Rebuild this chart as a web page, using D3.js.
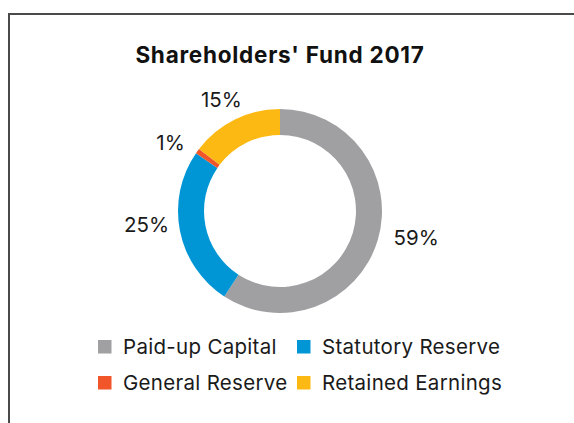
<!DOCTYPE html>
<html><head><meta charset="utf-8">
<script src="https://cdn.jsdelivr.net/npm/d3@7"></script>
<style>html,body{margin:0;padding:0;background:#fff;}svg{display:block;}</style>
</head><body>
<svg id="chart" width="574" height="423"></svg>
<script>
const title = "Shareholders' Fund 2017";
const categories = ["Paid-up Capital", "Statutory Reserve", "General Reserve", "Retained Earnings"];
const values = [59.2, 25.4, 0.8, 14.6];
const colors = ["#A0A0A3", "#0096D6", "#F1552A", "#FDB913"];

const W = 574, H = 423;
const svg = d3.select("#chart");
const font = "Inter, 'Libre Franklin', Roboto, sans-serif";

// frame (top + left edges)
svg.append("path")
  .attr("d", d3.line()([[9, H], [9, 14], [W, 14]]))
  .attr("fill", "none").attr("stroke", "#4a4a4a").attr("stroke-width", 2);

svg.append("text")
  .attr("x", 280).attr("y", 63)
  .attr("text-anchor", "middle")
  .attr("font-family", font).attr("font-weight", 700).attr("font-size", 22.5)
  .attr("letter-spacing", 0.75)
  .attr("fill", "#111").text(title);

const cx = 280, cy = 211, outerR = 102, innerR = 76;
const data = categories.map((c, i) => ({cat: c, value: values[i], color: colors[i]}));
const pie = d3.pie().value(d => d.value).sort(null);
const arcs = pie(data);
const arc = d3.arc().innerRadius(innerR).outerRadius(outerR);
const g = svg.append("g").attr("transform", `translate(${cx},${cy})`);
g.selectAll("path.slice").data(arcs).join("path")
  .attr("class", "slice")
  .attr("d", arc).attr("fill", d => d.data.color);

const total = d3.sum(values);
const labelR = 139, pull = 13;
const mid = d => (d.startAngle + d.endAngle) / 2;
g.selectAll("text.lbl").data(arcs).join("text")
  .attr("class", "lbl")
  .attr("x", d => labelR * Math.sin(mid(d)) + 3)
  .attr("y", d => { const y = -labelR * Math.cos(mid(d)); return y - Math.sign(y) * pull; })
  .attr("text-anchor", "middle").attr("dy", "0.36em")
  .attr("font-family", font).attr("font-size", 20.5).attr("fill", "#1a1a1a")
  .text(d => Math.round(d.value / total * 100) + "%");

// legend 2x2
const colX = d3.scaleOrdinal().domain([0, 1]).range([98, 297]);
const rowY = d3.scaleOrdinal().domain([0, 1]).range([340, 376]);
const lg = svg.append("g");
data.forEach((d, i) => {
  const col = i % 2, row = Math.floor(i / 2);
  const item = lg.append("g").attr("transform", `translate(${colX(col)},${rowY(row)})`);
  item.append("rect").attr("width", 13.5).attr("height", 13.5).attr("fill", d.color);
  item.append("text").attr("x", 25).attr("y", 13.5)
    .attr("font-family", font).attr("font-size", 20.5).attr("letter-spacing", 0.3)
    .attr("fill", "#1a1a1a")
    .text(d.cat);
});
</script>
</body></html>
